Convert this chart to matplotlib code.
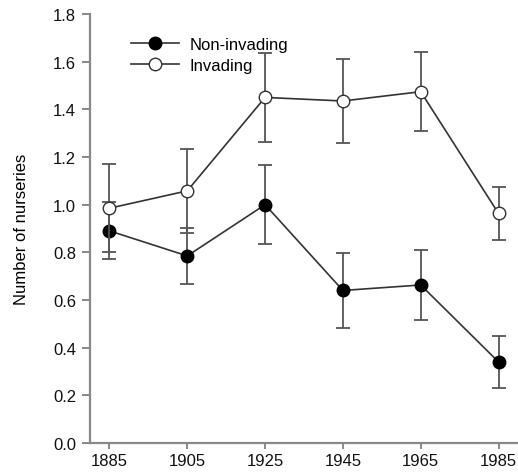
import numpy as np
import matplotlib.pyplot as plt
from matplotlib.lines import Line2D

plt.rcParams['font.family'] = ['Liberation Sans', 'DejaVu Sans']

years = [1885, 1905, 1925, 1945, 1965, 1985]

# mean number of nurseries and standard error per decade sample
non_invading = [0.89, 0.785, 1.00, 0.64, 0.663, 0.34]
non_invading_se = [0.12, 0.117, 0.165, 0.158, 0.148, 0.11]
invading = [0.985, 1.058, 1.45, 1.435, 1.474, 0.963]
invading_se = [0.185, 0.175, 0.188, 0.175, 0.165, 0.112]

fig = plt.figure(figsize=(5.18, 4.77), dpi=100)
ax = fig.add_axes([90 / 518, 33 / 477, 428 / 518, 429 / 477])

line_kw = dict(color='#333333', linewidth=1.2, markersize=9,
               ecolor='#555555', elinewidth=1.3, capsize=5, capthick=1.3)
ax.errorbar(years, non_invading, yerr=non_invading_se, marker='o',
            markerfacecolor='black', markeredgecolor='black', zorder=3, **line_kw)
ax.errorbar(years, invading, yerr=invading_se, marker='o',
            markerfacecolor='white', markeredgecolor='#333333', zorder=4, **line_kw)

ax.set_xlim(1880, 1990)
ax.set_ylim(0, 1.8)
ax.set_xticks(years)
ax.set_yticks(np.arange(0, 1.81, 0.2))
ax.set_yticklabels([f'{v:.1f}' for v in np.arange(0, 1.81, 0.2)])
ax.set_ylabel('Number of nurseries', fontsize=12, labelpad=17)

for side in ['top', 'right']:
    ax.spines[side].set_visible(False)
for side in ['left', 'bottom']:
    ax.spines[side].set_color('#888888')
    ax.spines[side].set_linewidth(1.6)
ax.tick_params(axis='both', colors='#888888', width=1.4, labelcolor='#111111',
               labelsize=12)
ax.tick_params(axis='y', length=6, pad=4)
ax.tick_params(axis='x', length=4, pad=3)

handles = [
    Line2D([], [], color='#333333', linewidth=1.2, marker='o', markersize=9,
           markerfacecolor='black', markeredgecolor='black'),
    Line2D([], [], color='#333333', linewidth=1.2, marker='o', markersize=9,
           markerfacecolor='white', markeredgecolor='#333333'),
]
ax.legend(handles, ['Non-invading', 'Invading'], loc='upper left',
          bbox_to_anchor=(0.08, 0.962), frameon=False, fontsize=12,
          handlelength=2.9, handletextpad=0.6, labelspacing=0.35,
          borderaxespad=0)

fig.savefig('out.png', dpi=100)
